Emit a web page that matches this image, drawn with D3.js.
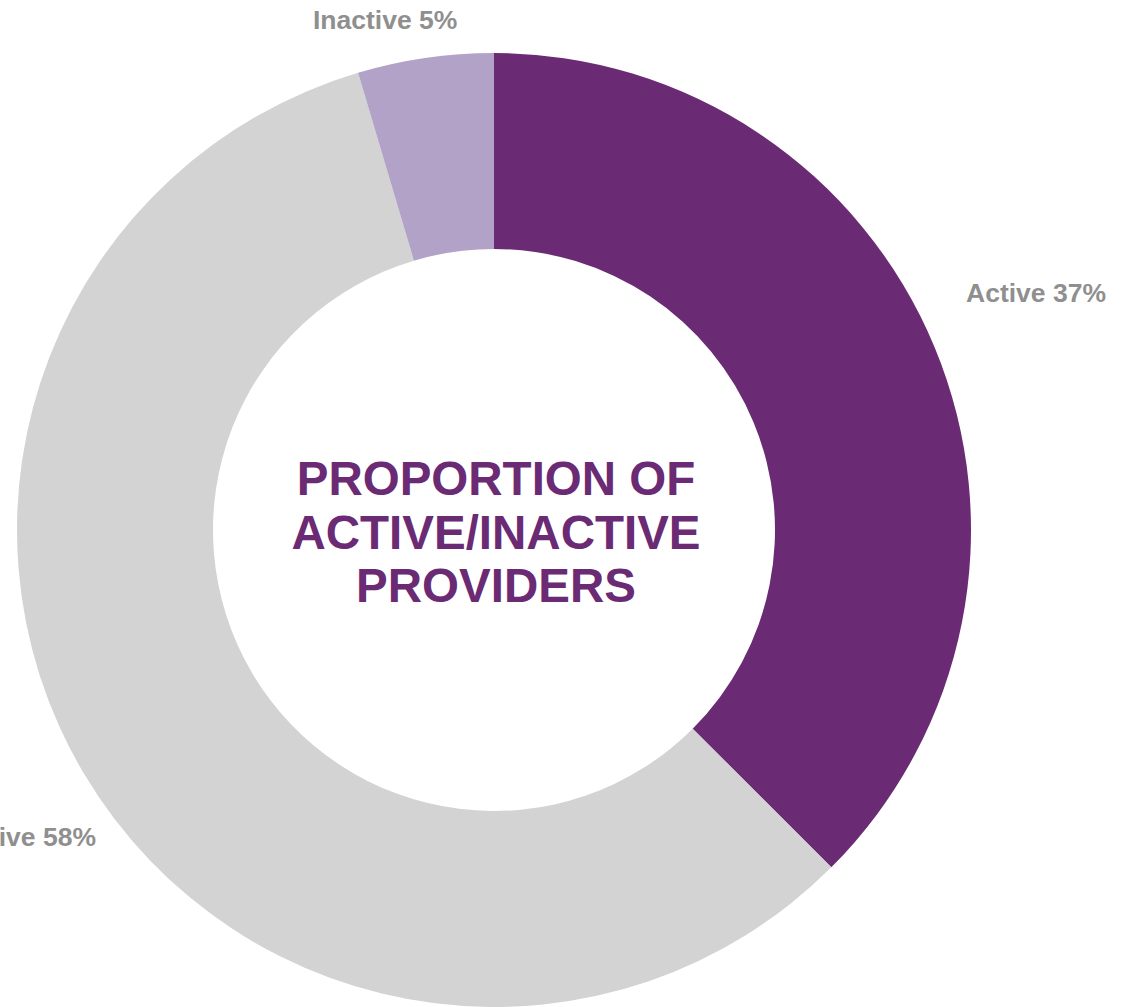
<!DOCTYPE html>
<html><head><meta charset="utf-8">
<script src="https://cdn.jsdelivr.net/npm/d3@7"></script>
<style>html,body{margin:0;padding:0;background:#fff;overflow:hidden}</style>
</head><body>
<svg id="c" width="1130" height="1007"></svg>
<script>
const categories = ["Active", "Inactive", "Inactive"];
const values = [37.5, 57.9, 4.6];
const labels = ["Active 37%", "Inactive 58%", "Inactive 5%"];
const colors = ["#6b2a74", "#d3d3d3", "#b3a2c8"];
const titleLines = ["PROPORTION OF", "ACTIVE/INACTIVE", "PROVIDERS"];

const W = 1130, H = 1007;
const cx = 494, cy = 530, outerR = 477, innerR = 281;
const svg = d3.select("#c");
const g = svg.append("g").attr("transform", `translate(${cx},${cy})`);

const pie = d3.pie().sort(null).value(d => d);
const arcs = pie(values);
const arc = d3.arc().innerRadius(innerR).outerRadius(outerR);

g.selectAll("path.slice").data(arcs).enter().append("path")
  .attr("class", "slice")
  .attr("d", arc)
  .attr("fill", (d, i) => colors[i]);

// label layout (position relative to centre, anchor)
const labelLayout = [
  {x: 472, y: -228, anchor: "start"},
  {x: -398, y: 316, anchor: "end"},
  {x: -181, y: -501, anchor: "start"}
];
g.selectAll("text.lbl").data(arcs).enter().append("text")
  .attr("class", "lbl")
  .attr("x", (d, i) => labelLayout[i].x)
  .attr("y", (d, i) => labelLayout[i].y)
  .attr("text-anchor", (d, i) => labelLayout[i].anchor)
  .attr("font-family", "Liberation Sans, Arial, sans-serif")
  .attr("font-weight", "bold")
  .attr("font-size", 26.5)
  .attr("fill", "#8f8f8f")
  .text((d, i) => labels[i]);

const t = g.append("text")
  .attr("text-anchor", "middle")
  .attr("font-family", "Liberation Sans, Arial, sans-serif")
  .attr("font-weight", "bold")
  .attr("font-size", 47.5)
  .attr("fill", "#6b2a74");
titleLines.forEach((s, i) => {
  t.append("tspan").attr("x", 2).attr("y", -35 + i * 53.5).text(s);
});
</script>
</body></html>
